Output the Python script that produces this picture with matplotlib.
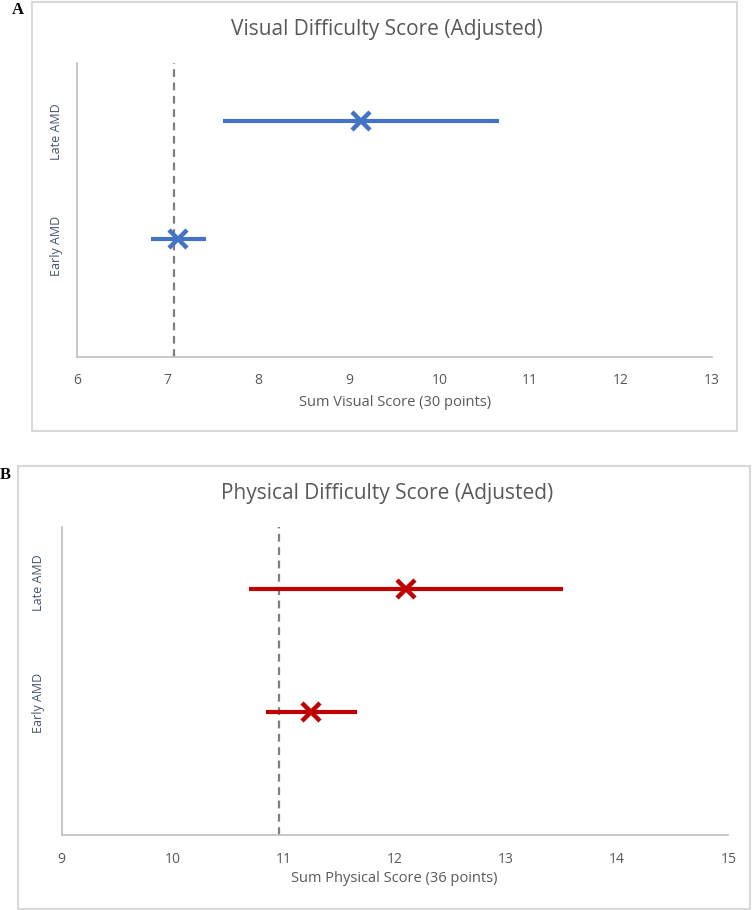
import matplotlib
matplotlib.use("Agg")
import matplotlib.pyplot as plt
from matplotlib.patches import Rectangle
import numpy as np

# ---- data ----
groups = ["Early AMD", "Late AMD"]

visual_mean = [7.12, 9.13]
visual_lo = [6.82, 7.61]
visual_hi = [7.43, 10.65]
visual_ref = 7.07
visual_ticks = [6, 7, 8, 9, 10, 11, 12, 13]

physical_mean = [11.24, 12.10]
physical_lo = [10.84, 10.69]
physical_hi = [11.66, 13.51]
physical_ref = 10.96
physical_ticks = [9, 10, 11, 12, 13, 14, 15]

W, H = 754, 910
plt.rcParams['font.family'] = ['Open Sans', 'DejaVu Sans']
fig = plt.figure(figsize=(W / 100, H / 100), dpi=100)

TEXT = '#595959'
CAT = '#44546A'
AXC = '#BFBFBF'


def fx(px):
    return px / W


def fy(py):
    return 1 - py / H


def box(x0, y0, x1, y1):
    fig.add_artist(Rectangle((fx(x0), fy(y1)), fx(x1) - fx(x0), fy(y0) - fy(y1),
                             transform=fig.transFigure, fill=False,
                             edgecolor='#D9D9D9', lw=1.5))


def panel(rect, means, lo, hi, ref, ticks, color, title, xlabel,
          title_xy, xlabel_xy, cat_pos, letter, letter_xy, frame):
    box(*frame)
    ax = fig.add_axes(rect)
    y = np.arange(1, len(means) + 1)
    m = np.array(means)
    err = [m - np.array(lo), np.array(hi) - m]
    ax.axvline(ref, color='#7F7F7F', lw=1.6, ls=(0, (3.5, 2.5)), zorder=1)
    ax.errorbar(m, y, xerr=err, fmt='x', color=color, ecolor=color,
                elinewidth=3.0, capsize=0, markersize=13, mew=3.2, zorder=3)
    ax.set_xlim(ticks[0], ticks[-1])
    ax.set_ylim(0, 2.5)
    ax.set_xticks(ticks)
    ax.set_xticklabels([str(t) for t in ticks], fontsize=10, color=TEXT)
    ax.set_yticks([])
    ax.tick_params(axis='x', length=0, pad=12)
    for s in ['top', 'right']:
        ax.spines[s].set_visible(False)
    for s in ['left', 'bottom']:
        ax.spines[s].set_color(AXC)
        ax.spines[s].set_linewidth(1.2)
    fig.text(fx(title_xy[0]), fy(title_xy[1]), title, fontsize=15, color=TEXT,
             ha='center', va='center')
    fig.text(fx(xlabel_xy[0]), fy(xlabel_xy[1]), xlabel, fontsize=10.5, color=TEXT,
             ha='center', va='center')
    for g, (px, py) in zip(groups, cat_pos):
        fig.text(fx(px), fy(py), g, fontsize=9, color=CAT, rotation=90,
                 ha='center', va='center')
    fig.text(fx(letter_xy[0]), fy(letter_xy[1]), letter, fontsize=12,
             fontweight='bold', family='Liberation Serif', ha='center', va='center')
    return ax


panel([fx(76.7), fy(356.7), fx(711.7) - fx(76.7), fy(62.7) - fy(356.7)],
      visual_mean, visual_lo, visual_hi, visual_ref, visual_ticks, '#4472C4',
      'Visual Difficulty Score (Adjusted)', 'Sum Visual Score (30 points)',
      (387, 29), (395, 402), [(56.7, 246), (56.7, 132)], 'A', (18, 10),
      (32.3, 1.5, 737.3, 431))

panel([fx(61.7), fy(835), fx(728.3) - fx(61.7), fy(527.3) - fy(835)],
      physical_mean, physical_lo, physical_hi, physical_ref, physical_ticks, '#C00000',
      'Physical Difficulty Score (Adjusted)', 'Sum Physical Score (36 points)',
      (387, 494), (394, 878), [(38.3, 703), (38.3, 583)], 'B', (5, 475),
      (18.3, 465.7, 750, 909))

fig.savefig('out.png', dpi=100)
